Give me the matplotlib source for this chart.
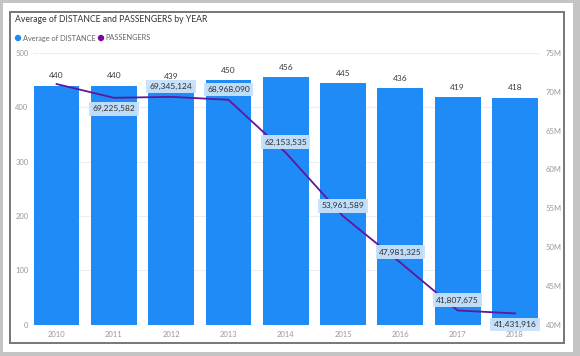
import matplotlib
matplotlib.use('Agg')
import matplotlib.pyplot as plt
from matplotlib.patches import Rectangle, Ellipse
from matplotlib.ticker import FuncFormatter

years = ['2010', '2011', '2012', '2013', '2014', '2015', '2016', '2017', '2018']
avg_distance = [440, 440, 439, 450, 456, 445, 436, 419, 418]
passengers = [71000000, 69225582, 69345124, 68968090, 62153535,
              53961589, 47981325, 41807675, 41431916]
# labels shown for passengers (2010 hidden), placement above/below the point
show_label = [False, True, True, True, True, True, True, True, True]
label_side = ['above', 'below', 'above', 'above', 'above', 'above', 'above', 'above', 'below']

BAR = '#1f8bf6'
LINE = '#62169a'
LEG_PURPLE = '#7a0a9c'
W, H = 580, 356

plt.rcParams['font.family'] = ['Lato', 'DejaVu Sans']

fig = plt.figure(figsize=(W / 100, H / 100), dpi=100)
fig.patch.set_facecolor('#c4c4c4')

# white card with dark frame
fig.patches.append(Rectangle((3 / W, 1 - 352 / H), 570 / W, 349 / H,
                             transform=fig.transFigure, facecolor='white',
                             edgecolor='none', zorder=-10))
fig.patches.append(Rectangle((10 / W, 1 - 343 / H), 554 / W, 331 / H,
                             transform=fig.transFigure, facecolor='none',
                             edgecolor='#777777', lw=1.4, zorder=-5))

left, right, top, bottom = 32.5, 539, 53, 324.5
ax = fig.add_axes([left / W, 1 - bottom / H, (right - left) / W, (bottom - top) / H])
ax.set_facecolor('none')
x = list(range(len(years)))

ax.bar(x, avg_distance, width=0.8, color=BAR, zorder=2)
ax.set_xlim(-0.42, 8.42)
ax.set_ylim(0, 500)
ax.set_yticks([0, 100, 200, 300, 400, 500])
ax.set_xticks(x)
ax.set_xticklabels(years)
ax.grid(axis='y', color='#eeeeee', lw=0.8, zorder=0)
for s in ax.spines.values():
    s.set_visible(False)
ax.tick_params(length=0, labelsize=5.5, labelcolor='#999999')
ax.tick_params(axis='y', pad=3)
ax.tick_params(axis='x', pad=4.5)

for xi, v in zip(x, avg_distance):
    ax.annotate(str(v), (xi, v), xytext=(0, 4.5), textcoords='offset points',
                ha='center', va='bottom', fontsize=6, color='#3a3a3a', zorder=5)

ax2 = ax.twinx()
ax2.set_ylim(40e6, 75e6)
ax2.set_yticks([40e6, 45e6, 50e6, 55e6, 60e6, 65e6, 70e6, 75e6])
ax2.yaxis.set_major_formatter(FuncFormatter(lambda v, p: f'{v / 1e6:.0f}M'))
for s in ax2.spines.values():
    s.set_visible(False)
ax2.tick_params(length=0, labelsize=5.5, labelcolor='#999999', pad=5)
ax2.plot(x, passengers, color=LINE, lw=1.3, zorder=3)

for xi, v, show, side in zip(x, passengers, show_label, label_side):
    if not show:
        continue
    dy = 7.5 if side == 'above' else -8
    ax2.annotate(f'{v:,}', (xi, v), xytext=(0, dy), textcoords='offset points',
                 ha='center', va='center', fontsize=6, color='#2e2e2e', zorder=6,
                 bbox=dict(boxstyle='square,pad=0.4', facecolor='#c9e2fa',
                           edgecolor='none', alpha=0.95))

fig.text(15 / W, 1 - 19 / H, 'Average of DISTANCE and PASSENGERS by YEAR',
         fontsize=6.2, color='#333333', va='center', ha='left')

# legend
for cx, col in [(18, BAR), (101, LEG_PURPLE)]:
    fig.patches.append(Ellipse((cx / W, 1 - 38 / H), 6.4 / W, 6.4 / H,
                               transform=fig.transFigure, facecolor=col,
                               edgecolor='none'))
fig.text(23 / W, 1 - 38 / H, 'Average of DISTANCE', fontsize=5.3, color='#666666',
         va='center', ha='left')
fig.text(105 / W, 1 - 38 / H, 'PASSENGERS', fontsize=5.3, color='#666666',
         va='center', ha='left')

fig.savefig('out.png', dpi=100, facecolor=fig.get_facecolor())
